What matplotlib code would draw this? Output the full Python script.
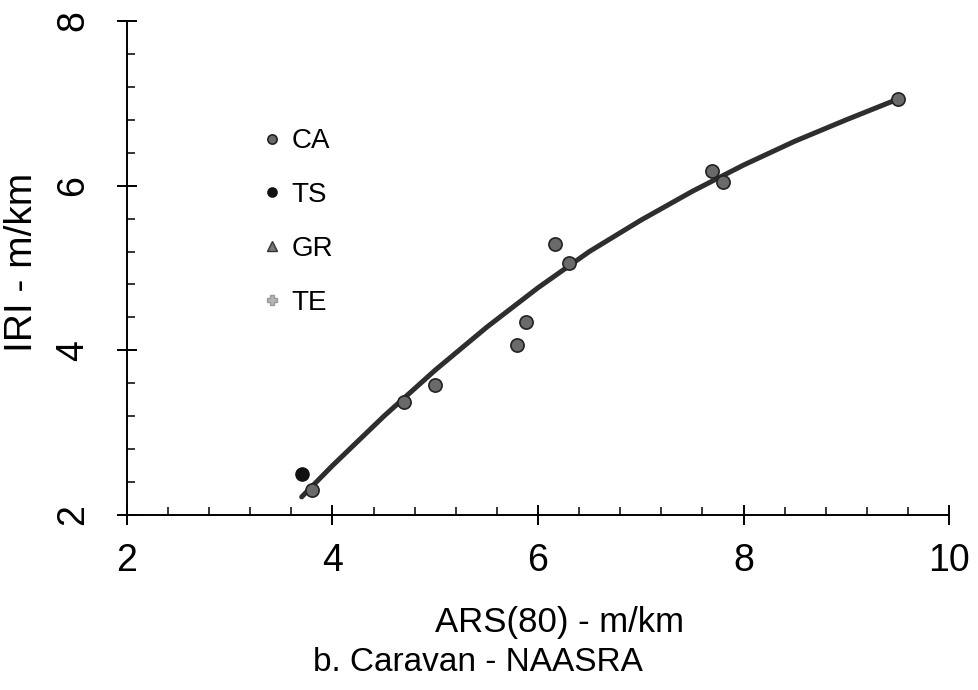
import matplotlib
matplotlib.use("Agg")
import matplotlib.pyplot as plt  # noqa: E402
from matplotlib.ticker import MultipleLocator  # noqa: E402

plt.rcParams["font.family"] = ["Liberation Sans", "DejaVu Sans"]

# measured sections, ARS(80) vs IRI (m/km)
ca_ars = [3.8, 4.7, 5.0, 5.8, 5.88, 6.17, 6.3, 7.69, 7.8, 9.5]
ca_iri = [2.3, 3.37, 3.58, 4.06, 4.34, 5.29, 5.06, 6.18, 6.04, 7.05]
ts_ars = [3.7]
ts_iri = [2.5]
gr_ars, gr_iri = [], []
te_ars, te_iri = [], []

# regression curve
fit_ars = [3.7, 4.0, 4.5, 5.0, 5.5, 6.0, 6.5, 7.0, 7.5, 8.0, 8.5, 9.0, 9.5]
fit_iri = [2.22, 2.60, 3.20, 3.76, 4.28, 4.76, 5.20, 5.58, 5.93, 6.25, 6.54, 6.80, 7.05]


def main() -> None:
    fig = plt.figure(figsize=(9.79, 6.9), dpi=100)
    ax = fig.add_axes([0.1297, 0.2536, 0.8397, 0.716])

    ax.plot(fit_ars, fit_iri, "-", color="#2e2e2e", lw=3.6, solid_capstyle="round",
            solid_joinstyle="round", zorder=2)

    ax.plot(ca_ars, ca_iri, "o", ls="none", ms=9.5, color="#6a6a6a", mec="#222222", mew=1.2,
            label="CA", zorder=3)
    ax.plot(ts_ars, ts_iri, "o", ls="none", ms=9.5, color="#111111", mec="#111111",
            label="TS", zorder=3)
    ax.plot(gr_ars, gr_iri, "^", ls="none", ms=9.5, color="#777777", mec="#333333",
            label="GR", zorder=3)
    ax.plot(te_ars, te_iri, "P", ls="none", ms=9.5, color="#b5b5b5", mec="#999999",
            label="TE", zorder=3)

    ax.set_xlim(2, 10)
    ax.set_ylim(2, 8)
    ax.xaxis.set_major_locator(MultipleLocator(2))
    ax.xaxis.set_minor_locator(MultipleLocator(0.4))
    ax.yaxis.set_major_locator(MultipleLocator(2))
    ax.yaxis.set_minor_locator(MultipleLocator(0.4))

    for side in ("top", "right"):
        ax.spines[side].set_visible(False)
    for side in ("left", "bottom"):
        ax.spines[side].set_linewidth(1.4)

    ax.tick_params(which="major", direction="inout", length=15, width=1.4)
    ax.tick_params(which="minor", direction="in", length=6, width=1.1)
    ax.tick_params(axis="x", which="major", labelsize=27, pad=13)
    ax.tick_params(axis="y", which="major", labelsize=27, pad=18)
    for lbl in ax.get_yticklabels():
        lbl.set_rotation(90)
        lbl.set_va("center")

    ax.set_xlabel("ARS(80) - m/km", fontsize=25, va="center")
    ax.xaxis.set_label_coords(0.526, -0.217)
    ax.set_ylabel("IRI - m/km", fontsize=28, va="center")
    ax.yaxis.set_label_coords(-0.128, 0.512)
    fig.text(0.488, 0.04, "b. Caravan - NAASRA", fontsize=24, ha="center", va="center")

    ax.legend(loc="upper left", bbox_to_anchor=(0.153, 0.805), frameon=False,
              fontsize=20, markerscale=0.7, handlelength=0.6, handletextpad=0.4,
              labelspacing=1.0, borderaxespad=0)

    fig.savefig("out.png", dpi=100)
    plt.close(fig)


if __name__ == "__main__":
    main()
